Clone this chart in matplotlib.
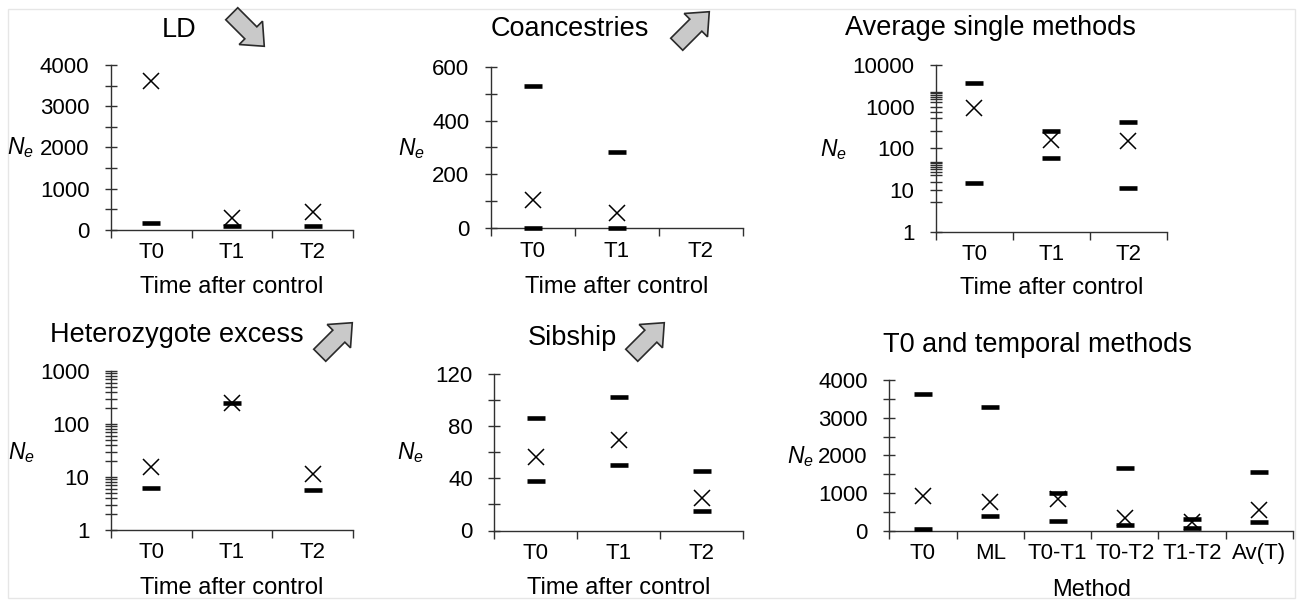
import numpy as np
import matplotlib.pyplot as plt
import matplotlib.ticker as mticker
from matplotlib.patches import Polygon, Rectangle

plt.rcParams['font.family'] = ['Liberation Sans', 'DejaVu Sans']
plt.rcParams['mathtext.fontset'] = 'custom'
plt.rcParams['mathtext.rm'] = 'Liberation Sans'
plt.rcParams['mathtext.it'] = 'Liberation Sans:italic'

nan = np.nan

### data
times = ['T0', 'T1', 'T2']
methods = ['T0', 'ML', 'T0-T1', 'T0-T2', 'T1-T2', 'Av(T)']

ld_ne = [3600, 280, 440]
ld_lo = [180, 97, 97]
ld_hi = [nan, nan, nan]

coan_ne = [105, 56, nan]
coan_lo = [0, 0, nan]
coan_hi = [530, 285, nan]

avg_ne = [940, 158, 152]
avg_lo = [14.8, 58, 11.2]
avg_hi = [3800, 265, 440]

het_ne = [15.6, 252, 11.4]
het_lo = [6.1, 250, 5.7]
het_hi = [nan, nan, nan]

sib_ne = [56.2, 69.6, 25.3]
sib_lo = [38.2, 50.5, 15.0]
sib_hi = [86.3, 102, 45.9]

temp_ne = [920, 752, 841, 327, 239, 549]
temp_lo = [45, 389, 265, 150, 80, 221]
temp_hi = [3628, 3292, 991, 1673, 301, 1549]

W, H = 1299, 602
fig = plt.figure(figsize=(W / 100, H / 100), dpi=100)
AX_COL = '#303030'


def px_axes(l, r, t, b):
    return fig.add_axes([l / W, 1 - b / H, (r - l) / W, (b - t) / H])


def style(ax, cats, ylim, yticks, yminor, log=False, labels=None):
    n = len(cats)
    ax.set_xlim(0.5, n + 0.5)
    if log:
        ax.set_yscale('log')
    ax.set_ylim(*ylim)
    for s in ['top', 'right']:
        ax.spines[s].set_visible(False)
    for s in ['left', 'bottom']:
        ax.spines[s].set_color(AX_COL)
        ax.spines[s].set_linewidth(1.0)
    ax.set_xticks(np.arange(0.5, n + 1), labels=[])
    ax.set_xticks(np.arange(1, n + 1), labels=cats, minor=True)
    ax.tick_params(axis='x', which='major', direction='out', length=6,
                   width=1.0, color=AX_COL)
    ax.tick_params(axis='x', which='minor', length=0, pad=9, labelsize=16)
    ax.set_yticks(yticks, labels=labels if labels else [str(v) for v in yticks])
    ax.yaxis.set_minor_locator(mticker.FixedLocator(yminor))
    ax.yaxis.set_minor_formatter(mticker.NullFormatter())
    ax.tick_params(axis='y', which='both', direction='inout', length=9,
                   width=1.0, color=AX_COL, pad=11, labelsize=16)
    ax.tick_params(axis='y', which='minor', length=8)
    ax.patch.set_alpha(0)


def draw(ax, ne, lo, hi):
    x = np.arange(1, len(ne) + 1)
    for v in (lo, hi):
        ax.plot(x, v, ls='none', marker='_', ms=13, mew=3.3, color='black',
                clip_on=False, zorder=3)
    ax.plot(x, ne, ls='none', marker='x', ms=11, mew=1.1, color='black',
            clip_on=False, zorder=4)


def xlabel(ax, text, top_px, ax_top, ax_bot):
    ax.set_xlabel(text, fontsize=17, va='top')
    ax.xaxis.set_label_coords(0.5, -(top_px - ax_bot) / (ax_bot - ax_top))


def block_arrow(cx, cy, dx, dy):
    # block arrow drawn in pixel space, then turned into figure fractions
    L, hl, hw, sw = 46, 19, 33, 17
    local = [(0, -sw / 2), (L - hl, -sw / 2), (L - hl, -hw / 2), (L, 0),
             (L - hl, hw / 2), (L - hl, sw / 2), (0, sw / 2)]
    d = np.array([dx, dy]) / np.hypot(dx, dy)
    p = np.array([-d[1], d[0]])
    pts = np.array([a * d + b * p for a, b in local])
    pts -= (pts.max(0) + pts.min(0)) / 2
    pts += [cx, cy]
    fpts = np.column_stack([pts[:, 0] / W, 1 - pts[:, 1] / H])
    fig.patches.append(Polygon(fpts, closed=True, transform=fig.transFigure,
                               facecolor='#c9c9c9', edgecolor='#2a2a2a',
                               lw=1.2))


def ne_label(x, y):
    fig.text(x / W, 1 - y / H, r'$N_e$', fontsize=16.5, ha='center', va='center')


def title(x, y, text):
    fig.text(x / W, 1 - y / H, text, fontsize=19.5, ha='center', va='baseline')


# frame of the screenshot
fig.patches.append(Rectangle((8 / W, 1 - 598 / H), 1287 / W, 589 / H,
                             transform=fig.transFigure, fill=False,
                             edgecolor='#e6e6e6', lw=1))

### LD
ax1 = px_axes(111, 353, 65, 230)
style(ax1, times, (0, 4000), [0, 1000, 2000, 3000, 4000], np.arange(500, 4000, 1000))
draw(ax1, ld_ne, ld_lo, ld_hi)
xlabel(ax1, 'Time after control', 276, 65, 230)
title(179, 37, 'LD')
block_arrow(245, 27, 1, 1)
ne_label(20, 148)

### Coancestries
ax2 = px_axes(491, 743, 66.7, 228.3)
style(ax2, times, (0, 600), [0, 200, 400, 600], [100, 300, 500])
draw(ax2, coan_ne, coan_lo, coan_hi)
xlabel(ax2, 'Time after control', 276, 66.7, 228.3)
title(570, 36, 'Coancestries')
block_arrow(690, 31, 1, -1)
ne_label(411, 149)

### Average single methods
ax3 = px_axes(936, 1166.7, 65, 231.7)
style(ax3, times, (1, 10000), [1, 10, 100, 1000, 10000],
      [5.2, 15.8, 23, 27.5, 32, 36, 40, 44, 48, 261, 525, 760,
       1320, 1530, 1740, 1910, 2090, 2290], log=True)
draw(ax3, avg_ne, avg_lo, avg_hi)
xlabel(ax3, 'Time after control', 277, 65, 231.7)
title(990, 35, 'Average single methods')
ne_label(833, 150)

### Heterozygote excess
ax4 = px_axes(111, 353, 371, 530)
style(ax4, times, (1, 1000), [1, 10, 100, 1000],
      [k * 10.0 ** e for e in range(3) for k in range(2, 10)], log=True)
draw(ax4, het_ne, het_lo, het_hi)
xlabel(ax4, 'Time after control', 577, 371, 530)
title(177, 342, 'Heterozygote excess')
block_arrow(333, 342, 1, -1)
ne_label(21, 453)

### Sibship
ax5 = px_axes(494.3, 743, 374, 530.5)
style(ax5, times, (0, 120), [0, 40, 80, 120], [20, 60, 100])
draw(ax5, sib_ne, sib_lo, sib_hi)
xlabel(ax5, 'Time after control', 577, 374, 530.5)
title(572, 345, 'Sibship')
block_arrow(645, 342, 1, -1)
ne_label(410, 453)

### T0 and temporal methods
ax6 = px_axes(889.3, 1293, 380, 530.7)
style(ax6, methods, (0, 4000), [0, 1000, 2000, 3000, 4000], np.arange(500, 4000, 1000))
draw(ax6, temp_ne, temp_lo, temp_hi)
xlabel(ax6, 'Method', 579, 380, 530.7)
title(1037, 352, 'T0 and temporal methods')
ne_label(800, 457)

fig.savefig('out.png', dpi=100)
